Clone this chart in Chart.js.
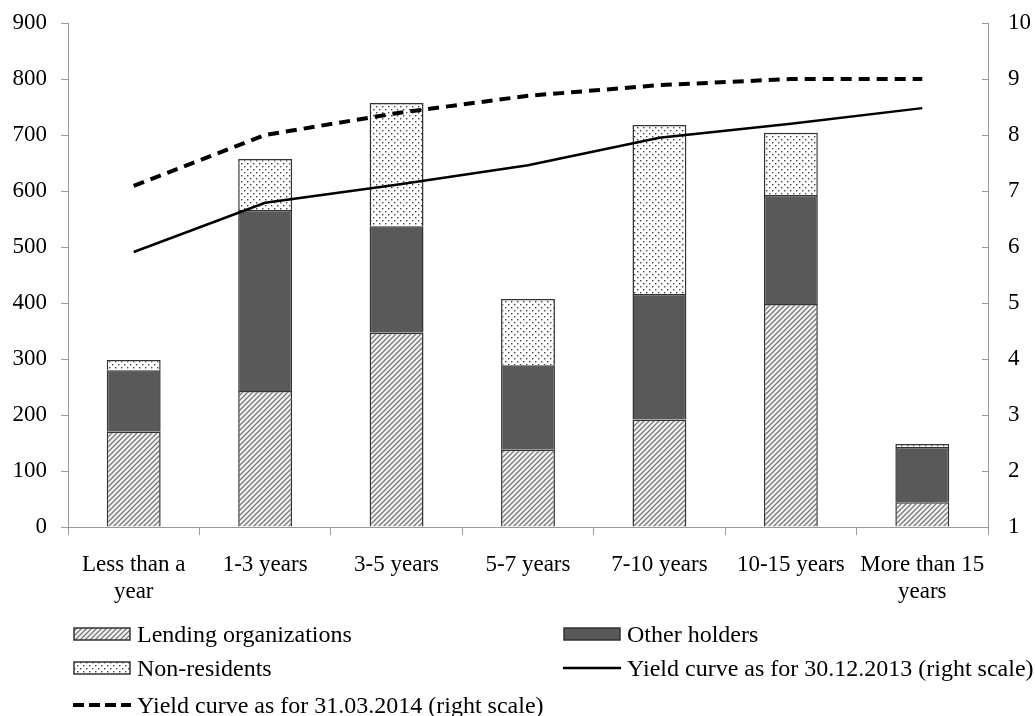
<!DOCTYPE html>
<html>
<head>
<meta charset="utf-8">
<script src="https://cdn.jsdelivr.net/npm/chart.js@4.4.1/dist/chart.umd.min.js"></script>
<style>
  body { margin: 0; background: #fff; }
  #wrap { position: relative; width: 1035px; height: 716px; }
  #legend { position: absolute; left: 0; top: 0; width: 1035px; height: 716px; pointer-events: none;
            font-family: "Liberation Serif", "Times New Roman", serif; font-size: 24px; color: #000; }
  .item { position: absolute; display: flex; align-items: center; white-space: nowrap; height: 26px; }
  .item canvas { margin-right: 6px; }
</style>
</head>
<body>
<div id="wrap">
  <canvas id="myChart" width="1035" height="716"></canvas>
  <div id="legend"></div>
</div>
<script>
var categories = [['Less than a', 'year'], '1-3 years', '3-5 years', '5-7 years', '7-10 years', '10-15 years', ['More than 15', 'years']];
var lending = [170, 243, 347, 138, 192, 398, 44];
var otherHolders = [110, 323, 190, 151, 224, 195, 99];
var nonResidents = [18, 91, 220, 118, 302, 111, 5];
var yield2013 = [5.91, 6.79, 7.11, 7.46, 7.95, 8.2, 8.48];
var yield2014 = [7.09, 8.0, 8.39, 8.7, 8.89, 9.0, 9.0];
var leftTicks = [0, 100, 200, 300, 400, 500, 600, 700, 800, 900];
var rightTicks = [1, 2, 3, 4, 5, 6, 7, 8, 9, 10];

var font = { family: '"Liberation Serif", "Times New Roman", serif', size: 23, lineHeight: 1.15 };
var ctx = document.getElementById('myChart').getContext('2d');

function hatchPattern(c2) {
  var c = document.createElement('canvas');
  c.width = 5; c.height = 5;
  var g = c.getContext('2d');
  g.fillStyle = '#f2f2f2';
  g.fillRect(0, 0, 5, 5);
  g.strokeStyle = '#7a7a7a';
  g.lineWidth = 1.3;
  g.beginPath();
  g.moveTo(-1, 6); g.lineTo(6, -1);
  g.moveTo(-3.5, 3.5); g.lineTo(3.5, -3.5);
  g.moveTo(1.5, 8.5); g.lineTo(8.5, 1.5);
  g.stroke();
  return c2.createPattern(c, 'repeat');
}

function dotPattern(c2) {
  var c = document.createElement('canvas');
  c.width = 6; c.height = 6;
  var g = c.getContext('2d');
  g.fillStyle = '#fff';
  g.fillRect(0, 0, 6, 6);
  g.fillStyle = '#444';
  g.fillRect(1, 1, 1.4, 1.4);
  g.fillRect(4, 4, 1.4, 1.4);
  return c2.createPattern(c, 'repeat');
}

var rightInwardTicks = {
  id: 'rightInwardTicks',
  afterDraw: function(chart) {
    var s = chart.scales.y1;
    var c = chart.ctx;
    c.save();
    c.strokeStyle = '#999';
    c.lineWidth = 1;
    rightTicks.forEach(function(v) {
      var y = Math.round(s.getPixelForValue(v)) + 0.5;
      c.beginPath();
      c.moveTo(s.left - 6, y);
      c.lineTo(s.left, y);
      c.stroke();
    });
    c.restore();
  }
};

function fitSide(w) {
  return function(s) { s.width = w; s.paddingTop = 0; s.paddingBottom = 0; };
}

var myChart = new Chart(ctx, {
  data: {
    labels: categories,
    datasets: [
      { type: 'line', label: 'Yield curve as for 30.12.2013 (right scale)', data: yield2013, yAxisID: 'y1',
        borderColor: '#000', borderWidth: 2.5, pointRadius: 0, tension: 0, order: 0 },
      { type: 'line', label: 'Yield curve as for 31.03.2014 (right scale)', data: yield2014, yAxisID: 'y1',
        borderColor: '#000', borderWidth: 4, borderDash: [11, 7], pointRadius: 0, tension: 0, order: 0 },
      { type: 'bar', label: 'Lending organizations', data: lending, yAxisID: 'y', stack: 's',
        backgroundColor: hatchPattern(ctx), borderColor: '#333', borderWidth: 1.5, order: 1 },
      { type: 'bar', label: 'Other holders', data: otherHolders, yAxisID: 'y', stack: 's',
        backgroundColor: '#595959', borderColor: '#333', borderWidth: 1.5, order: 1 },
      { type: 'bar', label: 'Non-residents', data: nonResidents, yAxisID: 'y', stack: 's',
        backgroundColor: dotPattern(ctx), borderColor: '#333', borderWidth: 1.5, order: 1 }
    ]
  },
  options: {
    responsive: false,
    animation: false,
    layout: { padding: { top: 23, bottom: 89, left: 0, right: 0 } },
    datasets: { bar: { barPercentage: 0.41, categoryPercentage: 1 } },
    plugins: { legend: { display: false }, tooltip: { enabled: false } },
    scales: {
      x: {
        stacked: true,
        grid: { offset: true, drawOnChartArea: false, tickLength: 8, color: '#999' },
        border: { color: '#999' },
        ticks: { font: font, color: '#000', maxRotation: 0, autoSkip: false, padding: 17 },
        afterFit: function(s) { s.height = 100; s.paddingLeft = 0; s.paddingRight = 0; }
      },
      y: {
        position: 'left', stacked: true, min: 0, max: 900,
        afterBuildTicks: function(s) { s.ticks = leftTicks.map(function(v) { return { value: v }; }); },
        grid: { drawOnChartArea: false, tickLength: 7, color: '#999' },
        border: { color: '#999' },
        ticks: { font: font, color: '#000', padding: 14 },
        afterFit: fitSide(68)
      },
      y1: {
        position: 'right', min: 1, max: 10,
        afterBuildTicks: function(s) { s.ticks = rightTicks.map(function(v) { return { value: v }; }); },
        grid: { drawOnChartArea: false, drawTicks: false, color: '#999' },
        border: { color: '#999' },
        ticks: { font: font, color: '#000', padding: 20 },
        afterFit: fitSide(47)
      }
    }
  },
  plugins: [rightInwardTicks]
});

// legend in HTML with drawn swatches
var legendItems = [
  { text: 'Lending organizations', kind: 'hatch', x: 73, y: 621 },
  { text: 'Other holders', kind: 'solid', x: 563, y: 621 },
  { text: 'Non-residents', kind: 'dots', x: 73, y: 655 },
  { text: 'Yield curve as for 30.12.2013 (right scale)', kind: 'line', x: 563, y: 655 },
  { text: 'Yield curve as for 31.03.2014 (right scale)', kind: 'dash', x: 73, y: 692 }
];
var legend = document.getElementById('legend');
legendItems.forEach(function(it) {
  var d = document.createElement('div');
  d.className = 'item';
  d.style.left = it.x + 'px';
  d.style.top = it.y + 'px';
  var c = document.createElement('canvas');
  c.width = 58; c.height = 14;
  var g = c.getContext('2d');
  if (it.kind === 'line' || it.kind === 'dash') {
    g.strokeStyle = '#000';
    g.lineWidth = it.kind === 'dash' ? 4 : 2.5;
    if (it.kind === 'dash') g.setLineDash([11, 5]);
    g.beginPath(); g.moveTo(0, 7); g.lineTo(58, 7); g.stroke();
  } else {
    g.fillStyle = it.kind === 'hatch' ? hatchPattern(g) : it.kind === 'dots' ? dotPattern(g) : '#595959';
    g.fillRect(1, 1, 56, 12);
    g.strokeStyle = '#333'; g.lineWidth = 1.5;
    g.strokeRect(1, 1, 56, 12);
  }
  d.appendChild(c);
  var s = document.createElement('span');
  s.textContent = it.text;
  d.appendChild(s);
  legend.appendChild(d);
});
</script>
</body>
</html>
